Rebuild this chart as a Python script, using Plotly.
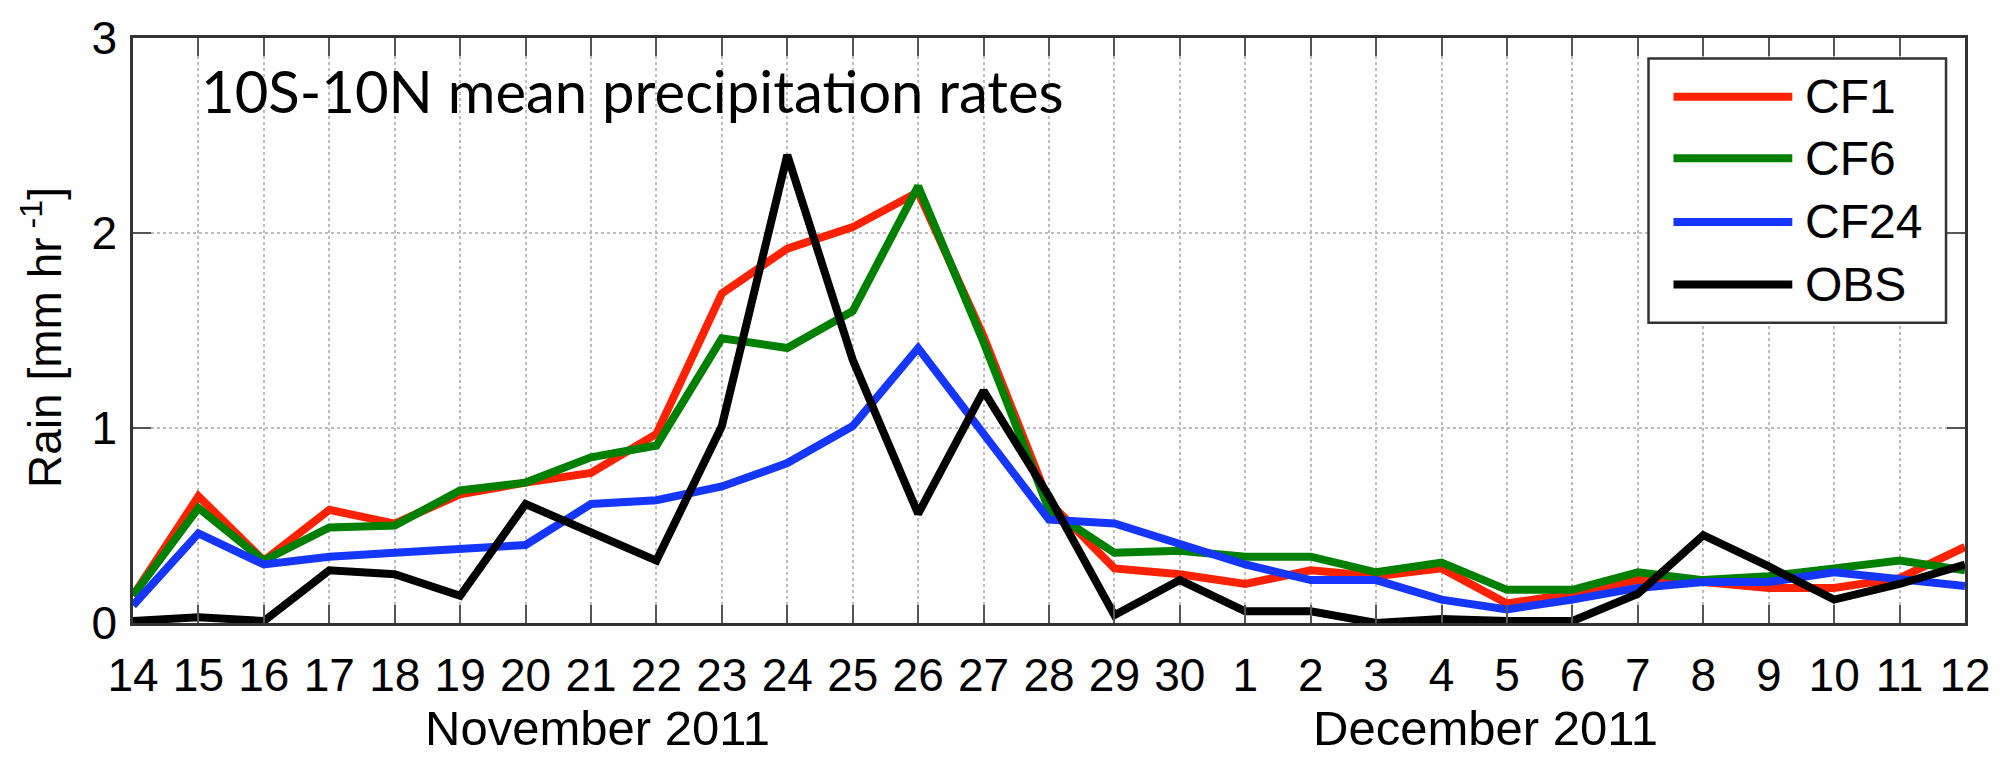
import plotly.graph_objects as go

# ---- data ----
day_labels = ["14", "15", "16", "17", "18", "19", "20", "21", "22", "23", "24", "25", "26", "27",
              "28", "29", "30", "1", "2", "3", "4", "5", "6", "7", "8", "9", "10", "11", "12"]
day_index = list(range(len(day_labels)))

cf1 = [0.14, 0.65, 0.32, 0.58, 0.51, 0.66, 0.72, 0.77, 0.97, 1.69, 1.92, 2.03, 2.21, 1.47, 0.62,
       0.28, 0.25, 0.20, 0.27, 0.24, 0.28, 0.10, 0.15, 0.22, 0.21, 0.18, 0.18, 0.23, 0.39]
cf6 = [0.14, 0.59, 0.32, 0.49, 0.50, 0.68, 0.72, 0.85, 0.91, 1.46, 1.41, 1.60, 2.24, 1.44, 0.58,
       0.36, 0.37, 0.34, 0.34, 0.26, 0.31, 0.17, 0.17, 0.26, 0.22, 0.24, 0.28, 0.32, 0.27]
cf24 = [0.09, 0.46, 0.30, 0.34, 0.36, 0.38, 0.40, 0.61, 0.63, 0.70, 0.82, 1.01, 1.41, 0.97, 0.53,
        0.51, 0.41, 0.30, 0.22, 0.22, 0.12, 0.07, 0.12, 0.18, 0.21, 0.21, 0.26, 0.22, 0.19]
obs = [0.01, 0.03, 0.01, 0.27, 0.25, 0.14, 0.61, 0.46, 0.32, 1.01, 2.40, 1.35, 0.56, 1.19, 0.65,
       0.04, 0.22, 0.06, 0.06, 0.00, 0.02, 0.01, 0.01, 0.15, 0.45, 0.29, 0.12, 0.20, 0.30]

series_names = ["CF1", "CF6", "CF24", "OBS"]
series_values = [cf1, cf6, cf24, obs]
series_colors = ["#ff2200", "#008000", "#1536ff", "#000000"]

y_ticks = [0, 1, 2, 3]
month_labels = ["November 2011", "December 2011"]
panel_title = "10S-10N mean precipitation rates"
y_title = "Rain [mm hr<sup> -1</sup>]"

FONT = "Liberation Sans, Arial, Helvetica, sans-serif"

fig = go.Figure()
for name, vals, col in zip(series_names, series_values, series_colors):
    fig.add_trace(go.Scatter(x=day_index, y=vals, mode="lines", name=name,
                             line=dict(color=col, width=8), showlegend=False))

axis_common = dict(
    showline=True, linecolor="#333333", linewidth=2.5, mirror="ticks",
    ticks="inside", ticklen=18, tickwidth=2, tickcolor="#555555",
    showgrid=True, gridcolor="#bdbdbd", gridwidth=1.5, griddash="dot",
    zeroline=False, ticklabeloverflow="allow",
    tickfont=dict(family=FONT, size=46, color="#000000"),
)

fig.update_xaxes(range=[0, 28], tickmode="array", tickvals=day_index, ticktext=day_labels,
                 ticklabelstandoff=10, **axis_common)
fig.update_yaxes(range=[0, 3], tickmode="array", tickvals=y_ticks,
                 ticktext=[str(v) for v in y_ticks], ticklabelstandoff=4, **axis_common)

annotations = [
    dict(text=panel_title, xref="paper", yref="paper", x=0.036, y=0.911,
         xanchor="left", yanchor="middle", showarrow=False,
         font=dict(family="Lato, Open Sans, sans-serif", size=58, color="#000000")),
    dict(text=y_title, xref="paper", yref="paper", x=-0.05, y=0.488,
         xanchor="center", yanchor="middle", textangle=-90, showarrow=False,
         font=dict(family=FONT, size=46, color="#000000")),
    dict(text=month_labels[0], xref="paper", yref="paper", x=0.2534, y=-0.229,
         xanchor="center", yanchor="bottom", showarrow=False,
         font=dict(family=FONT, size=49, color="#000000")),
    dict(text=month_labels[1], xref="paper", yref="paper", x=0.7384, y=-0.229,
         xanchor="center", yanchor="bottom", showarrow=False,
         font=dict(family=FONT, size=49, color="#000000")),
]

# ---- manual legend (paper coordinates) ----
L, T = 133, 25
W, H = 1835, 598
def px(xp):
    return (xp - L) / W
def py(yp):
    return (T + H - yp) / H

shapes = [dict(type="rect", xref="paper", yref="paper",
               x0=px(1651), x1=px(1949), y0=py(316), y1=py(46),
               line=dict(color="#333333", width=2.5), fillcolor="white", layer="above")]
row_y = [85, 148, 213, 277]
for name, col, ry in zip(series_names, series_colors, row_y):
    shapes.append(dict(type="line", xref="paper", yref="paper",
                       x0=px(1676), x1=px(1795), y0=py(ry), y1=py(ry),
                       line=dict(color=col, width=8), layer="above"))
    annotations.append(dict(text=name, xref="paper", yref="paper", x=px(1806), y=py(ry),
                            xanchor="left", yanchor="middle", showarrow=False,
                            font=dict(family=FONT, size=48, color="#000000")))

fig.update_layout(
    width=2003, height=758, autosize=False,
    margin=dict(l=133, r=35, t=25, b=135),
    paper_bgcolor="white", plot_bgcolor="white",
    annotations=annotations, shapes=shapes, showlegend=False,
)

fig.write_html("out.html", config={"displayModeBar": False},
               post_script="document.body.style.margin='0';document.body.style.overflow='hidden';")
